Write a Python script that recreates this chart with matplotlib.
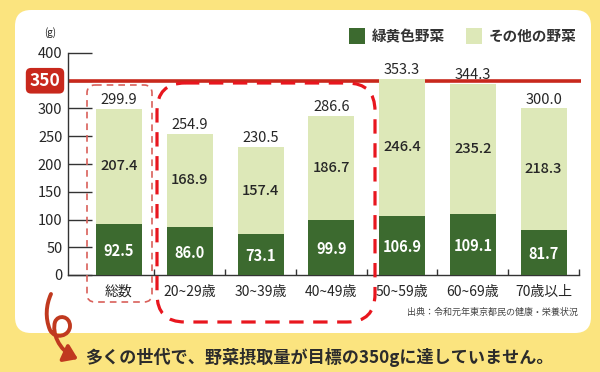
import numpy as np
import matplotlib
matplotlib.use('Agg')
import matplotlib.pyplot as plt
from matplotlib.patches import FancyBboxPatch, FancyArrowPatch, Rectangle
from matplotlib.path import Path
from matplotlib.transforms import Affine2D, blended_transform_factory

plt.rcParams['font.family'] = ['Noto Sans CJK JP', 'DejaVu Sans']

# data (g per day)
categories = ['総数', '20~29歳', '30~39歳', '40~49歳', '50~59歳', '60~69歳', '70歳以上']
green_yellow = [92.5, 86.0, 73.1, 99.9, 106.9, 109.1, 81.7]
other_veg = [207.4, 168.9, 157.4, 186.7, 246.4, 235.2, 218.3]
totals = [299.9, 254.9, 230.5, 286.6, 353.3, 344.3, 300.0]
target = 350
yticks = [0, 50, 100, 150, 200, 250, 300, 350, 400]
legend_labels = ['緑黄色野菜', 'その他の野菜']

W, H = 600, 372
dark = '#3c6a2f'
light = '#dde8b8'
red = '#c8281c'
yellow = '#fbe47f'
txt = '#262626'

fig = plt.figure(figsize=(W / 100, H / 100), dpi=100, facecolor=yellow)
# pixel coords measured from the top-left corner
pix = Affine2D().scale(1 / W, -1 / H).translate(0, 1) + fig.transFigure

panel = FancyBboxPatch((15, 10), 576, 323, boxstyle='round,pad=0,rounding_size=16',
                       transform=pix, fc='white', ec='none', zorder=-1)
fig.add_artist(panel)

ax = fig.add_axes([68 / W, 1 - 275 / H, 511 / W, 222 / H])
ax.set_facecolor('none')

x = np.arange(len(categories))
bw = 0.65
ax.bar(x, green_yellow, bw, color=dark, zorder=3)
ax.bar(x, other_veg, bw, bottom=green_yellow, color=light, zorder=3)
ax.set_xlim(-0.72, 6.48)
ax.set_ylim(0, 400)

# target line
ax.plot([-0.72, 6.53], [target, target], color=red, lw=2.6, zorder=2,
        clip_on=False, solid_capstyle='butt')

for s in ['top', 'right']:
    ax.spines[s].set_visible(False)
for s in ['left', 'bottom']:
    ax.spines[s].set_color('#333333')
    ax.spines[s].set_linewidth(1)

ax.set_yticks(yticks, [str(t) if t != target else '' for t in yticks])
ax.tick_params(axis='y', direction='in', length=17, width=1, pad=4,
               labelsize=10.5, colors='#333333', labelcolor=txt)
ax.set_xticks(x, categories)
ax.tick_params(axis='x', which='major', length=0, pad=7, labelsize=10, labelcolor=txt)
ax.set_xticks(x + 0.5, minor=True)
ax.tick_params(axis='x', which='minor', direction='in', length=4, width=1, colors='#333333')

for i in range(len(categories)):
    g, o, t = green_yellow[i], other_veg[i], totals[i]
    ax.text(i, t + 3, f'{t:.1f}', ha='center', va='bottom', fontsize=10.5, color=txt, zorder=5)
    ax.text(i, g + o / 2, f'{o:.1f}', ha='center', va='center', fontsize=10.5,
            color=txt, fontweight='medium', zorder=5)
    ax.text(i, g / 2 - 3, f'{g:.1f}', ha='center', va='center', fontsize=10.5,
            color='white', fontweight='bold', zorder=5)

# red 350 marker on the axis
bt = blended_transform_factory(ax.transAxes, ax.transData)
ax.text(-0.045, target, str(target), transform=bt, ha='center', va='center', color='white',
        fontsize=12.5, fontweight='bold', zorder=6, clip_on=False,
        bbox=dict(boxstyle='round,pad=0.22,rounding_size=0.3', fc=red, ec='none'))

fig.text(50 / W, 1 - 33 / H, '(g)', fontsize=7, ha='center', va='center', color=txt)

# legend
for xs, col, lab in [(349, dark, legend_labels[0]), (466, light, legend_labels[1])]:
    fig.add_artist(Rectangle((xs, 28), 16, 16, transform=pix, fc=col, ec='none'))
    fig.text((xs + 23) / W, 1 - 36 / H, lab, fontsize=10.5, fontweight='bold',
             va='center', ha='left', color='#333333')

# dashed highlight boxes
box1 = FancyBboxPatch((87, 85), 65, 217, boxstyle='round,pad=0,rounding_size=8', transform=pix,
                      fill=False, ec='#d9605a', lw=1.2, ls=(0, (4, 3)), zorder=4)
fig.add_artist(box1)
box2 = FancyBboxPatch((157, 83), 218, 239, boxstyle='round,pad=0,rounding_size=28', transform=pix,
                      fill=False, ec='#e8161e', lw=2.3, ls=(0, (4.5, 3)), zorder=4)
fig.add_artist(box2)

# curly arrow
verts = [(51, 294),
         (46, 305), (45, 318), (50, 330),
         (55, 340), (70, 336), (70, 326),
         (70, 316), (58, 314), (55, 322),
         (52, 332), (58, 350), (78, 359)]
codes = [Path.MOVETO] + [Path.CURVE4] * 12
arrow = FancyArrowPatch(path=Path(verts, codes), transform=pix,
                        arrowstyle='-|>,head_length=0.8,head_width=0.55', mutation_scale=10,
                        color='#c0391f', lw=2.8, zorder=4)
fig.add_artist(arrow)

fig.text(85 / W, 1 - 357 / H, '多くの世代で、野菜摂取量が目標の350gに達していません。',
         fontsize=12.3, fontweight='bold', va='center', ha='left', color='#2b2b2b')
fig.text(578 / W, 1 - 312 / H, '出典：令和元年東京都民の健康・栄養状況', ha='right', va='center',
         fontsize=6.5, color='#444444')

fig.savefig('out.png', dpi=100, facecolor=fig.get_facecolor())
